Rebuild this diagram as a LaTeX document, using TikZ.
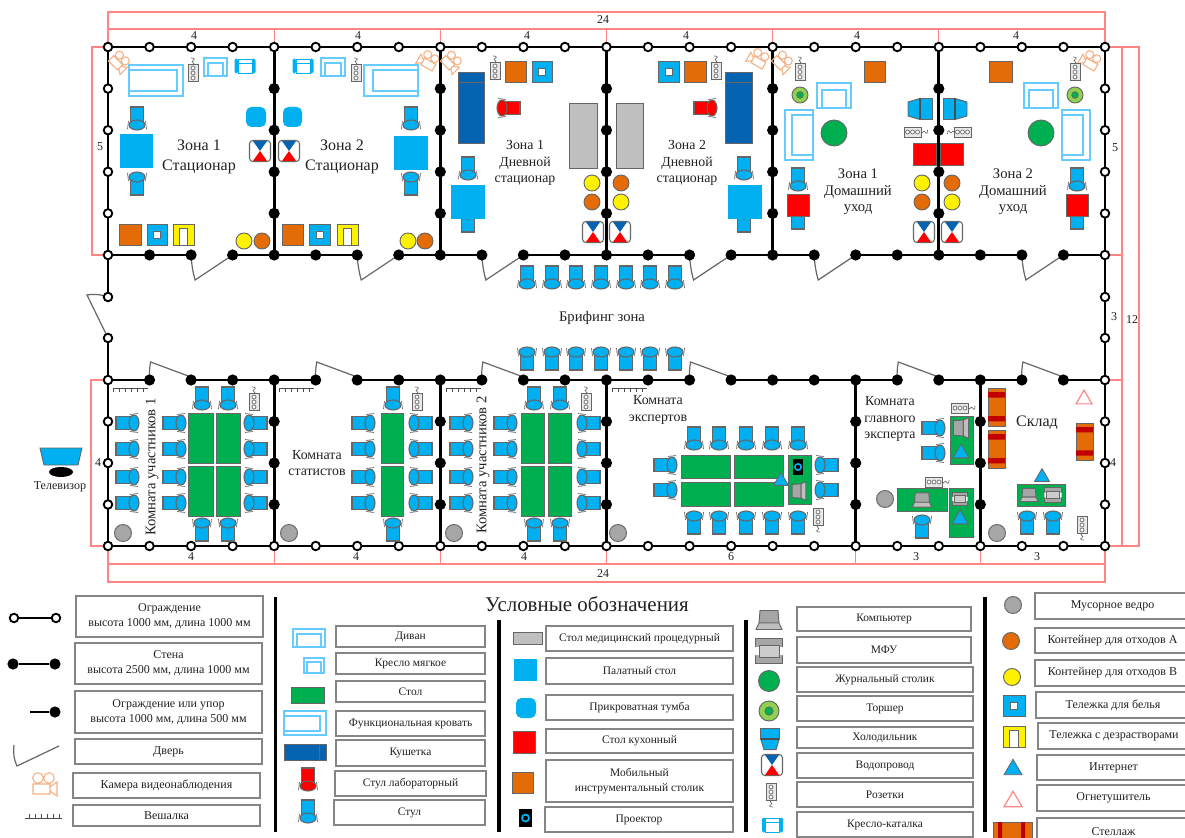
\documentclass[tikz,border=0pt]{standalone}
\usepackage{fontspec}
\setmainfont{Liberation Serif}
\definecolor{sky}{HTML}{00B0F0}
\definecolor{dkb}{HTML}{0563B1}
\definecolor{grn}{HTML}{00B050}
\definecolor{org}{HTML}{E36C09}
\definecolor{dimc}{HTML}{FF8585}
\definecolor{camc}{HTML}{F4B183}
\definecolor{sofac}{HTML}{66CCFF}
\definecolor{lne}{HTML}{666666}
\definecolor{txt}{HTML}{222222}
\definecolor{lam}{HTML}{92D050}
\definecolor{drd}{HTML}{C00000}
\tikzset{
 wall/.style={line width=2.1pt,black},
 opost/.style={circle,draw=black,fill=white,line width=1.4pt,minimum size=6.4pt,inner sep=0pt},
 bpost/.style={circle,fill=black,minimum size=8.4pt,inner sep=0pt},
 dimline/.style={draw=dimc,line width=.9pt},
 doorl/.style={draw=lne,line width=.9pt},
 sf/.style={draw=sofac,line width=.8pt},
 bar/.style={line width=2.8pt,black},
 zonet/.style={text=txt,align=center,font=\fontsize{11}{12.4}\selectfont},
 zonetb/.style={text=txt,align=center,font=\fontsize{12}{12.4}\selectfont},
 zonets/.style={text=txt,align=center,font=\fontsize{10.4}{12.4}\selectfont},
 dimt/.style={text=txt,font=\fontsize{9}{10}\selectfont},
 lgt/.style={text=txt,align=center,font=\fontsize{8.6}{11.2}\selectfont},
 lgtb/.style={text=txt,align=center,font=\fontsize{9}{11.2}\selectfont},
 lgbox/.style={draw=lne!80,line width=1.1pt,fill=white},
 pics/chairp/.style={code={
  \draw[lne,line width=.5pt] (-8.5,3)--(-9.5,11) (8.5,3)--(9.5,11);
  \filldraw[fill=#1,draw=lne,line width=.8pt] (-6.5,-11) rectangle (6.5,5);
  \filldraw[fill=#1,draw=lne,line width=.8pt] (0,7) ellipse (8 and 5);
 }},
 pics/chairp/.default=sky,
 pics/socketp/.style={code={
  \filldraw[fill=white!85!lne,draw=lne,line width=.7pt] (-5,-8.5) rectangle (5,8.5);
  \foreach \q in {-5,0,5}{\filldraw[fill=white,draw=lne,line width=.5pt] (0,\q) circle (2);}
  \draw[lne,line width=.5pt] (0,-8.5) .. controls (3,-10) and (-3,-11) .. (0,-12.5) .. controls (3,-14) and (0,-16) .. (-2,-15);
 }},
 pics/waterp/.style={code={
  \filldraw[fill=white,draw=lne,line width=.8pt,rounded corners=2.5pt] (-10.5,-10.5) rectangle (10.5,10.5);
  \fill[dkb] (-7,-10) -- (7,-10) -- (0,0) -- cycle;
  \fill[red] (-7,10) -- (7,10) -- (0,0) -- cycle;
 }},
 pics/fridgep/.style={code={
  \filldraw[fill=sky,draw=lne,line width=.7pt] (-10.5,-12) rectangle (10.5,0);
  \filldraw[fill=sky,draw=lne,line width=.7pt] (-10.5,0) -- (10.5,0) -- (7,12) -- (-7,12) -- cycle;
  \draw[black!70,line width=1pt] (-10.5,0) -- (10.5,0);
 }},
 pics/laptopp/.style={code={
  \filldraw[fill=black!35,draw=black!60,line width=.7pt] (-9,-9.5) -- (9,-9.5) -- (10,3) -- (-10,3) -- cycle;
  \filldraw[fill=black!25,draw=black!60,line width=.7pt] (-10,3) -- (10,3) -- (13,9.5) -- (-13,9.5) -- cycle;
 }},
 pics/printerp/.style={code={
  \filldraw[fill=black!35,draw=black!60,line width=.7pt] (-13.5,-12.5) rectangle (13.5,12.5);
  \fill[white] (-13.9,-4) rectangle (-10,4) (13.9,-4) rectangle (10,4);
  \filldraw[fill=black!20,draw=black!60,line width=.7pt] (-10,-6) rectangle (10,6);
 }},
 pics/wheelp/.style={code={
  \draw[sky,line width=.7pt] (-7,-7) rectangle (7,7) (-7,-3) -- (7,-3);
  \fill[sky,rounded corners=1.2pt] (-10.5,-7.5) rectangle (-7,7.5) (7,-7.5) rectangle (10.5,7.5);
 }},
 pics/camp/.style={code={
  \draw[camc,line width=.8pt] (-7,-6) circle (5.3) (4,-6) circle (5.3) (-12,0) rectangle (5,10)
   (5,3) -- (12,-2) -- (12,12) -- (5,7);
 }},
}
\newcommand\Ch[3]{\pic[rotate=#3] at (#1,#2) {chairp};}
\newcommand\RCh[3]{\pic[rotate=#3] at (#1,#2) {chairp=red};}
\newcommand\Sock[3]{\pic[rotate=#3] at (#1,#2) {socketp};}
\newcommand\Wat[2]{\pic at (#1,#2) {waterp};}
\newcommand\Bx[5]{\filldraw[fill=#5,draw=lne,line width=.7pt] (#1,#2) rectangle (#3,#4);}
\newcommand\Tab[4]{\Bx{#1}{#2}{#3}{#4}{grn}}
\newcommand\Pal[4]{\fill[sky] (#1,#2) rectangle (#3,#4);}
\newcommand\Tumb[4]{\fill[sky,rounded corners=4pt] (#1,#2) rectangle (#3,#4);}
\newcommand\Cart[4]{\Bx{#1}{#2}{#3}{#4}{sky}\filldraw[fill=white,draw=lne,line width=.6pt] ({#1+(#3-#1)*.33},{#2+(#4-#2)*.33}) rectangle ({#3-(#3-#1)*.33},{#4-(#4-#2)*.33});}
\newcommand\Ucart[4]{\Bx{#1}{#2}{#3}{#4}{yellow}\filldraw[fill=white,draw=lne,line width=.6pt] ({#1+(#3-#1)*.3},#4) -- ({#1+(#3-#1)*.3},{#2+(#4-#2)*.22}) -- ({#3-(#3-#1)*.3},{#2+(#4-#2)*.22}) -- ({#3-(#3-#1)*.3},#4);}
\newcommand\Disc[4]{\filldraw[fill=#4,draw=lne,line width=.7pt] (#1,#2) circle (#3);}
\newcommand\Lamp[3]{\filldraw[fill=lam,draw=lne,line width=.7pt] (#1,#2) circle (#3);\filldraw[fill=grn,draw=black!60,line width=.5pt] (#1,#2) circle ({#3*.42});}
\newcommand\Tri[3]{\filldraw[fill=sky,draw=black!60,line width=.6pt] ({#1-#3/2},{#2+#3*.43}) -- (#1,{#2-#3*.43}) -- ({#1+#3/2},{#2+#3*.43}) -- cycle;}
\newcommand\Fire[3]{\draw[dimc,line width=.9pt] ({#1-#3/2},{#2+#3*.43}) -- (#1,{#2-#3*.43}) -- ({#1+#3/2},{#2+#3*.43}) -- cycle;}
\newcommand\Sofa[8]{\draw[sf] (#1,#2) rectangle (#3,#4);\draw[sf] (#5,#6) rectangle (#7,#8);}
\newcommand\Shelf[4]{\Bx{#1}{#2}{#3}{#4}{org}\fill[drd] (#1,{#2+(#4-#2)*.11}) rectangle (#3,{#2+(#4-#2)*.25}) (#1,{#2+(#4-#2)*.74}) rectangle (#3,{#2+(#4-#2)*.88});}
\newcommand\Couch[4]{\filldraw[fill=dkb,draw=black!60,line width=.7pt] (#1,#2) rectangle (#3,#4);}
\newcommand\Hang[3]{\draw[black!70,line width=.7pt] (#1,#2) -- ({#1+35},#2);\foreach \q in {0,6,...,35}{\draw[black!70,line width=.6pt] ({#1+\q},#2) -- ({#1+\q},{#2+#3});}}
\newcommand\DoorD[2]{\draw[doorl] (#1,#2) .. controls ({#1+.5},{#2+10}) and ({#1+2},{#2+18}) .. ({#1+4},{#2+25}) -- ({#1+41.5},#2);}
\newcommand\DoorU[2]{\draw[doorl] (#1,#2) .. controls ({#1-.5},{#2-6}) and (#1,{#2-12}) .. ({#1+1},{#2-18}) -- ({#1+41.5},{#2-3});}
\newcommand\Lg[6]{\draw[lgbox] (#2,#3) rectangle (#4,#5);\node[lgt] (#1) at ({(#2+#4)/2},{(#3+#5)/2}) {#6};}
\newcommand\Lgb[6]{\draw[lgbox] (#2,#3) rectangle (#4,#5);\node[lgtb] (#1) at ({(#2+#4)/2},{(#3+#5)/2}) {#6};}
\begin{document}
\begin{tikzpicture}[x=.75pt,y=-.75pt]
\useasboundingbox (0,0) rectangle (1185,838);
\clip (0,0) rectangle (1185,838);
\fill[white] (0,0) rectangle (1185,838);
% ---------- dimension lines
\draw[dimline] (108,47) -- (108,12) -- (1105,12) -- (1105,47);
\draw[dimline] (108,29) -- (1105,29);
\foreach \i in {4,8,12,16,20}{\draw[dimline] ({108+\i*41.54},29) -- ({108+\i*41.54},47);}
\draw[dimline] (108,47) -- (92,47) -- (92,255) -- (108,255);
\draw[dimline] (108,380) -- (91,380) -- (91,546) -- (108,546);
\draw[dimline] (1105,47) -- (1139,47) -- (1139,546) -- (1105,546);
\draw[dimline] (1122,47) -- (1122,546);
\draw[dimline] (1105,255) -- (1122,255) (1105,380) -- (1122,380);
\draw[dimline] (108,546) -- (108,582) -- (1105,582) -- (1105,546);
\draw[dimline] (108,564) -- (1105,564);
\foreach \i in {4,8,12,18,21}{\draw[dimline] ({108+\i*41.54},546) -- ({108+\i*41.54},564);}
\node[dimt] (d1) at (603,20) {24};
\node[dimt] (d2) at (194,36) {4};
\node[dimt] (d3) at (358,36) {4};
\node[dimt] (d4) at (527,36) {4};
\node[dimt] (d5) at (686,36) {4};
\node[dimt] (d6) at (857,36) {4};
\node[dimt] (d7) at (1016,36) {4};
\node[dimt] (d8) at (100,147) {5};
\node[dimt] (d9) at (1115,148) {5};
\node[dimt] (d10) at (1114,317) {3};
\node[dimt] (d11) at (1132,320) {12};
\node[dimt] (d12) at (1113,463) {4};
\node[dimt] (d13) at (98,463) {4};
\node[dimt] (d14) at (191,557) {4};
\node[dimt] (d15) at (356,557) {4};
\node[dimt] (d16) at (524,557) {4};
\node[dimt] (d17) at (731,557) {6};
\node[dimt] (d18) at (916,557) {3};
\node[dimt] (d19) at (1037,557) {3};
\node[dimt] (d20) at (603,574) {24};
% ---------- walls
\draw[wall] (108,47) -- (1105,47);
\draw[wall] (108,546) -- (1105,546);
\draw[wall] (108,47) -- (108,297) (108,338) -- (108,546);
\draw[wall] (1105,47) -- (1105,546);
\foreach \i in {4,8,12,16,20}{\draw[wall] ({108+\i*41.54},47) -- ({108+\i*41.54},255);}
\foreach \i in {4,8,12,18,21}{\draw[wall] ({108+\i*41.54},380) -- ({108+\i*41.54},546);}
\foreach \a/\b in {0/2,3/6,7/9,10/14,15/17,18/22,23/24}{\draw[wall] ({108+\a*41.54},255) -- ({108+\b*41.54},255);}
\foreach \a/\b in {0/1,2/5,6/9,10/14,15/19,20/22,23/24}{\draw[wall] ({108+\a*41.54},380) -- ({108+\b*41.54},380);}
% doors
\foreach \i in {2,6,9,14,17,22}{\DoorD{108+\i*41.54}{255}}
\foreach \i in {1,5,9,14,19,22}{\DoorU{108+\i*41.54}{380}}
\draw[doorl] (108,297) .. controls (100,294) and (92,294) .. (87,295) -- (108,338);
% posts
\foreach \i in {0,...,24}{\node[opost] (pt\i) at ({108+\i*41.54},47) {};\node[opost] (pb\i) at ({108+\i*41.54},546) {};}
\foreach \i in {1,...,23}{\node[bpost] (pm\i) at ({108+\i*41.54},255) {};\node[bpost] (pn\i) at ({108+\i*41.54},380) {};}
\foreach \i in {0,24}{\node[opost] (pm\i) at ({108+\i*41.54},255) {};\node[opost] (pn\i) at ({108+\i*41.54},380) {};}
\foreach \j in {1,2,3,4}{
 \node[opost] (pl\j) at (108,{47+\j*41.6}) {};
 \node[opost] (pr\j) at (1105,{47+\j*41.6}) {};
 \foreach \i in {4,8,12,16,20}{\node[bpost] (pu\i-\j) at ({108+\i*41.54},{47+\j*41.6}) {};}
}
\foreach \j in {1,2,3}{
 \node[opost] (ql\j) at (108,{380+\j*41.5}) {};
 \node[opost] (qr\j) at (1105,{380+\j*41.5}) {};
 \foreach \i in {4,8,12,18,21}{\node[bpost] (qu\i-\j) at ({108+\i*41.54},{380+\j*41.5}) {};}
}
\foreach \j in {297,338}{\node[opost] (cl\j) at (108,\j) {};\node[opost] (cr\j) at (1105,\j) {};}
% ---------- Zone 1 stationary
\pic[rotate=-45,scale=.75] at (120,62) {camp};
\Sofa{129}{65}{183}{96}{129}{70}{177}{91}
\Sock{193}{73}{0}
\Sofa{204}{58}{227}{76}{208}{63}{223}{76}
\pic at (245,66) {wheelp};
\Tumb{246}{107}{266}{127}
\Wat{260}{151}
\Ch{137}{118}{0}\Ch{137}{184}{180}
\Pal{119.5}{134}{153}{168}
\Bx{119}{224}{141}{245}{org}\Cart{147}{224}{167}{245}\Ucart{173}{224}{194}{245}
\Disc{244}{241}{8}{yellow}\Disc{262}{241}{8}{org}
\node[zonetb] (z1) at (199,157) {Зона 1\\[2pt]Стационар};
% Zone 2 stationary
\pic[rotate=-30,xscale=-1,scale=.75] at (428,60) {camp};
\Sofa{364}{65}{418}{96}{373}{70}{418}{91}
\Sock{356}{73}{0}
\Sofa{321}{58}{345}{76}{325}{63}{341}{76}
\pic at (303,66) {wheelp};
\Tumb{283}{107}{302}{127}
\Wat{289}{151}
\Ch{411}{118}{0}\Ch{411}{184}{180}
\Pal{394}{136}{428}{170}
\Bx{282}{224}{303}{245}{org}\Cart{309}{224}{330}{245}\Ucart{337}{224}{358}{245}
\Disc{408}{241}{8}{yellow}\Disc{425}{241}{8}{org}
\node[zonetb] (z2) at (342,157) {Зона 2\\[2pt]Стационар};
% Day 1
\pic[rotate=-45,scale=.75] at (452,62) {camp};
\Sock{495}{71}{0}
\Bx{505}{61}{526}{82}{org}\Cart{532}{61}{552}{82}
\Couch{458}{72}{484}{143}\draw[black!60,line width=.7pt] (458,82) -- (484,82);
\RCh{509}{108}{-90}
\Bx{569}{103}{597}{168}{black!25}
\Ch{468}{168}{0}\Ch{468}{221}{180}
\Pal{451}{185}{485}{219}
\Disc{592}{183}{8}{yellow}\Disc{592}{202}{8}{org}
\Wat{593}{232}
\node[zonets] (z3) at (525,163) {Зона 1\\Дневной\\стационар};
% Day 2
\pic[rotate=-30,xscale=-1,scale=.75] at (758,58) {camp};
\Sock{716}{71}{0}
\Bx{684}{61}{706}{82}{org}\Cart{658}{61}{679}{82}
\Couch{725}{72}{752}{143}\draw[black!60,line width=.7pt] (725,82) -- (752,82);
\RCh{705}{108}{90}
\Bx{616}{103}{643}{168}{black!25}
\Ch{744}{168}{0}\Ch{744}{221}{180}
\Pal{728}{185}{762}{219}
\Disc{621}{183}{8}{org}\Disc{621}{202}{8}{yellow}
\Wat{620}{232}
\node[zonets] (z4) at (687,163) {Зона 2\\Дневной\\стационар};
% Home 1
\pic[rotate=-45,scale=.75] at (783,62) {camp};
\Sock{800}{72}{0}
\Bx{864}{61}{885}{82}{org}
\Lamp{800}{95}{8}
\Sofa{817}{83}{851}{108}{822}{90}{846}{108}
\Sofa{785}{110}{813}{160}{792}{115}{813}{155}
\Disc{834}{133}{13}{grn}
\pic[rotate=-90] at (920,109) {fridgep};
\Sock{912.5}{132}{-90}
\Bx{913}{143}{936}{165}{red}
\Disc{922}{183}{8}{yellow}\Disc{922}{202}{8}{org}
\Wat{924}{232}
\Ch{798}{179}{0}\Ch{798}{218}{180}
\Bx{787}{194}{809}{216}{red}
\node[zonet] (z5) at (858,192) {Зона 1\\Домашний\\уход};
% Home 2
\pic[rotate=-30,xscale=-1,scale=.75] at (1090,60) {camp};
\Sock{1075}{72}{0}
\Bx{989}{61}{1012}{82}{org}
\Lamp{1075}{95}{8}
\Sofa{1024}{83}{1058}{108}{1029}{90}{1053}{108}
\Sofa{1062}{110}{1090}{160}{1062}{115}{1083}{155}
\Disc{1041}{133}{13}{grn}
\pic[rotate=90] at (955,109) {fridgep};
\Sock{962.5}{132}{90}
\Bx{940}{143}{963}{165}{red}
\Disc{952}{183}{8}{org}\Disc{952}{202}{8}{yellow}
\Wat{952}{232}
\Ch{1077}{179}{0}\Ch{1077}{218}{180}
\Bx{1066}{194}{1088}{216}{red}
\node[zonet] (z6) at (1013,192) {Зона 2\\Домашний\\уход};
% Corridor
\foreach \x in {527,552,576,601,626,650,675}{\Ch{\x}{277}{0}\Ch{\x}{359}{180}}
\node[zonet] (br) at (602,318) {Брифинг зона};
% TV
\filldraw[fill=sky,draw=lne,line width=.7pt] (40,448) -- (82,448) -- (78,465) -- (44,465) -- cycle;
\fill[black] (61,472) ellipse (12 and 5);
\node[lgtb] (tv) at (60,487) {Телевизор};
% Room participants 1
\Hang{113}{388}{4}
\foreach \y in {423,449,477,503}{\Ch{127}{\y}{90}\Ch{174}{\y}{90}\Ch{256}{\y}{-90}}
\foreach \x in {202,228}{\Ch{\x}{398}{0}\Ch{\x}{530}{180}}
\Tab{188}{413}{213}{463}\Tab{216}{413}{240}{463}\Tab{188}{466}{213}{516}\Tab{216}{466}{240}{516}
\Sock{254}{402}{0}
\Disc{123}{533}{8.5}{black!35}
\node[zonet,rotate=90] (rp1) at (152,467) {Комната участников 1};
% Statist
\Hang{279}{388}{4}
\foreach \y in {423,449,477,503}{\Ch{363}{\y}{90}\Ch{421}{\y}{-90}}
\Ch{393}{398}{0}\Ch{393}{530}{180}
\Tab{381}{413}{403}{463}\Tab{381}{466}{403}{516}
\Sock{417}{402}{0}
\Disc{289}{533}{8.5}{black!35}
\node[zonets] (rs) at (317,463) {Комната\\статистов};
% Room participants 2
\Hang{446}{388}{4}
\foreach \y in {423,449,477,503}{\Ch{461}{\y}{90}\Ch{505}{\y}{90}\Ch{589}{\y}{-90}}
\foreach \x in {534,560}{\Ch{\x}{398}{0}\Ch{\x}{530}{180}}
\Tab{521}{413}{544}{463}\Tab{548}{413}{571}{463}\Tab{521}{466}{544}{516}\Tab{548}{466}{571}{516}
\Sock{586}{402}{0}
\Disc{454}{533}{8.5}{black!35}
\node[zonet,rotate=90] (rp2) at (483,465) {Комната участников 2};
% Experts
\Hang{612}{388}{4}
\node[zonets] (re) at (658,410) {Комната\\экспертов};
\foreach \x in {694,719,746,772,798}{\Ch{\x}{438}{0}\Ch{\x}{523}{180}}
\foreach \y in {465,490}{\Ch{665}{\y}{90}\Ch{827}{\y}{-90}}
\Tab{681}{455}{730}{478}\Tab{734}{455}{783}{478}\Tab{681}{482}{730}{506}\Tab{734}{482}{783}{506}
\Tab{788}{455}{811}{504}
\fill[black] (793,459) rectangle (803,475);
\draw[sky,line width=1.2pt] (798,467) circle (3.2);
\pic[rotate=90,scale=.72] at (799,491) {laptopp};
\Tri{781}{479}{15}
\Sock{818}{517}{180}
\Disc{618}{533}{8.5}{black!35}
% Chief expert
\node[zonets] (rc) at (890,419) {Комната\\главного\\эксперта};
\foreach \y in {428,453}{\Ch{933}{\y}{90}}
\Tab{950}{416}{973}{464}
\pic[rotate=90,scale=.8] at (961,428) {laptopp};
\Tri{961}{451}{16}
\Sock{960}{408}{-90}
\Tab{897}{488}{947}{511}
\pic[scale=.75] at (922,500) {laptopp};
\Ch{922}{527}{180}
\Sock{934}{482}{-90}
\Disc{885}{499}{8.5}{black!35}
\Tab{949}{488}{973}{537}
\pic[scale=.55] at (960,499) {printerp};
\Tri{960}{517}{16}
% Warehouse
\Shelf{988}{388}{1005}{426}\Shelf{988}{430}{1005}{468}\Shelf{1076}{423}{1093}{460}
\Fire{1084}{397}{16}
\node[zonetb] (rw) at (1037,423) {Склад};
\Tri{1042}{475}{15}
\Tab{1017}{484}{1065}{506}
\pic[scale=.7] at (1029,495) {laptopp};
\pic[scale=.62] at (1053,495) {printerp};
\Ch{1027}{523}{180}\Ch{1053}{523}{180}
\Disc{997}{533}{8.5}{black!35}
\Sock{1082}{525}{180}
% ---------- legend
\node[text=txt,font=\fontsize{15.7}{16}\selectfont] (title) at (587,604) {Условные обозначения};
\draw[bar] (275.5,597) -- (275.5,832);
\draw[bar] (499,620) -- (499,832);
\draw[bar] (746,620) -- (746,832);
\draw[bar] (985,597) -- (985,832);
% col 1
\Lgb{l1}{76}{596}{263}{637}{Ограждение\\высота 1000 мм, длина 1000 мм}
\Lgb{l2}{75}{643}{262}{684}{Стена\\высота 2500 мм, длина 1000 мм}
\Lgb{l3}{75}{691}{262}{733}{Ограждение или упор\\высота 1000 мм, длина 500 мм}
\Lgb{l4}{75}{739}{262}{764}{Дверь}
\Lgb{l5}{73}{773}{260}{798}{Камера видеонаблюдения}
\Lgb{l6}{73}{805}{260}{826}{Вешалка}
\node[opost] (k1a) at (14,618) {};\node[opost] (k1b) at (56,618) {};
\draw[black,line width=1.2pt] (k1a) -- (k1b);
\node[bpost] (k2a) at (13,664) {};\node[bpost] (k2b) at (55,664) {};
\draw[black,line width=1.2pt] (k2a) -- (k2b);
\coordinate (k3a) at (30,712);\node[bpost] (k3b) at (55,712) {};
\draw[black,line width=1.2pt] (k3a) -- (k3b);
\draw[doorl] (14,745) .. controls (13,753) and (14,760) .. (17,766) -- (59,746);
\pic at (45,784) {camp};
\draw[black!70,line width=.7pt] (25,818) -- (62,818);
\foreach \q in {29,35,41,47,53,59}{\draw[black!70,line width=.6pt] (\q,818) -- (\q,814);}
% col 2
\Lg{l7}{336}{626}{485}{647}{Диван}
\Lg{l8}{336}{653}{485}{674}{Кресло мягкое}
\Lg{l9}{336}{681}{485}{702}{Стол}
\Lg{l10}{336}{711}{485}{736}{Функциональная кровать}
\Lg{l11}{336}{740}{485}{766}{Кушетка}
\Lg{l12}{335}{771}{486}{796}{Стул лабораторный}
\Lg{l13}{334}{800}{485}{825}{Стул}
\Sofa{293}{629}{325}{647}{297}{634}{321}{647}
\Sofa{304}{658}{324}{673}{307}{662}{321}{673}
\Tab{291}{687}{324}{703}
\Sofa{284}{711}{326}{735}{284}{716}{320}{731}
\Couch{284}{744}{326}{760}\draw[black!60,line width=.7pt] (319,744) -- (319,760);
\RCh{308}{779}{0}
\Ch{308}{811}{0}
% col 3
\Lg{l14}{546}{626}{733}{651}{Стол медицинский процедурный}
\Lg{l15}{546}{658}{733}{684}{Палатный стол}
\Lg{l16}{546}{695}{733}{720}{Прикроватная тумба}
\Lg{l17}{546}{729}{733}{753}{Стол кухонный}
\Lg{l18}{546}{760}{733}{802}{Мобильный\\инструментальный столик}
\Lg{l19}{545}{807}{733}{832}{Проектор}
\Bx{513}{632}{542}{644}{black!25}
\Pal{514}{659}{537}{681}
\Tumb{516}{698}{536}{718}
\Bx{513}{731}{535}{753}{red}
\Bx{512}{772}{533}{793}{org}
\fill[black] (519,809) rectangle (532,827);
\draw[sky,line width=1.3pt] (525.5,818) circle (3.5);
% col 4
\Lg{l20}{797}{607}{971}{631}{Компьютер}
\Lg{l21}{797}{637}{971}{663}{МФУ}
\Lg{l22}{797}{667}{973}{692}{Журнальный столик}
\Lg{l23}{797}{696}{973}{721}{Торшер}
\Lg{l24}{797}{727}{973}{748}{Холодильник}
\Lg{l25}{797}{753}{973}{778}{Водопровод}
\Lg{l26}{797}{782}{973}{807}{Розетки}
\Lg{l27}{797}{812}{973}{837}{Кресло-каталка}
\pic at (769,620) {laptopp};
\pic at (769,651) {printerp};
\Disc{769}{681}{10.5}{grn}
\Lamp{769}{711}{10}
\pic[scale=.88] at (770,739) {fridgep};
\Wat{772}{765}
\Sock{771}{792}{180}
\pic at (772.5,825) {wheelp};
% col 5
\Lgb{l28}{1035}{593}{1190}{619}{Мусорное ведро}
\Lgb{l29}{1035}{628}{1190}{653}{Контейнер для отходов А}
\Lgb{l30}{1035}{660}{1190}{686}{Контейнер для отходов В}
\Lgb{l31}{1036}{692}{1190}{718}{Тележка для белья}
\Lgb{l32}{1038}{723}{1190}{749}{Тележка с дезрастворами}
\Lgb{l33}{1037}{755}{1190}{780}{Интернет}
\Lgb{l34}{1037}{785}{1190}{811}{Огнетушитель}
\Lgb{l35}{1037}{818}{1190}{845}{Стеллаж}
\Disc{1013}{605}{8.5}{black!35}
\Disc{1011}{641}{8.5}{org}
\Disc{1012}{677}{8.5}{yellow}
\Cart{1003}{695}{1025}{716}
\Ucart{1003}{726}{1025}{747}
\Tri{1013}{767}{18}
\Fire{1013}{799}{18}
\Bx{993}{822}{1032}{845}{org}
\fill[drd] (998,822) rectangle (1002,840) (1021,822) rectangle (1025,840);
\end{tikzpicture}
\end{document}
